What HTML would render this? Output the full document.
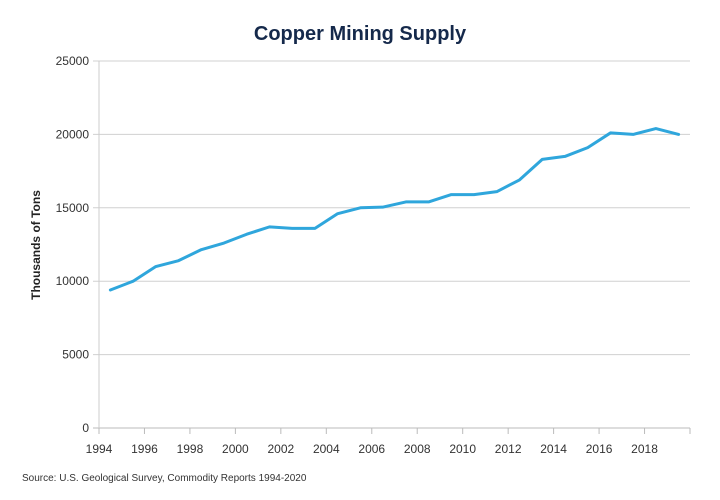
<!DOCTYPE html>
<html><head><meta charset="utf-8"><style>
body{margin:0;background:#fff;font-family:"Liberation Sans",sans-serif}
svg{display:block}
svg text{font-family:"Liberation Sans",sans-serif}
</style></head><body>
<svg id="chart" width="720" height="500" viewBox="0 0 720 500">
<text x="360" y="40" text-anchor="middle" font-size="20" font-weight="bold" fill="#15294b">Copper Mining Supply</text>
<text transform="translate(40,245) rotate(-90)" text-anchor="middle" font-size="12" font-weight="bold" fill="#222">Thousands of Tons</text>
<text x="22" y="481" font-size="10" fill="#333">Source: U.S. Geological Survey, Commodity Reports 1994-2020</text>
<g id="grid"></g><g id="axes"></g><g id="series"></g>
</svg>
<script>
const years=[1994.5,1995.5,1996.5,1997.5,1998.5,1999.5,2000.5,2001.5,2002.5,2003.5,2004.5,2005.5,2006.5,2007.5,2008.5,2009.5,2010.5,2011.5,2012.5,2013.5,2014.5,2015.5,2016.5,2017.5,2018.5,2019.5];
const supply=[9400,10000,11000,11400,12150,12600,13200,13700,13600,13600,14600,15000,15050,15400,15400,15900,15900,16100,16900,18300,18500,19100,20100,20000,20400,20000];
const yTicks=[0,5000,10000,15000,20000,25000];
const xTicks=[1994,1996,1998,2000,2002,2004,2006,2008,2010,2012,2014,2016,2018];
const NS="http://www.w3.org/2000/svg";
const X0=99,X1=690,Y0=428,Y1=61;
const xs=v=>X0+(v-1994)/(2020-1994)*(X1-X0);
const ys=v=>Y0-(v/25000)*(Y0-Y1);
function mk(t,a,p){const e=document.createElementNS(NS,t);for(const k in a)e.setAttribute(k,a[k]);p.appendChild(e);return e;}
const grid=document.getElementById('grid'),axes=document.getElementById('axes'),ser=document.getElementById('series');
yTicks.forEach(v=>{
 const l=mk('line',{x1:X0-6,x2:X1,y1:ys(v),y2:ys(v),stroke:v===0?'#bbb':'#d0d0d0','stroke-width':1},grid);
 
 
 const t=mk('text',{x:X0-10,y:ys(v)+4,'text-anchor':'end','font-size':12,fill:'#333'},axes);
 t.textContent=v;
 
 
});
const ya=mk('line',{x1:X0,x2:X0,y1:Y1,y2:Y0,stroke:'#ccc','stroke-width':1},axes);


xTicks.concat([2020]).forEach(v=>{
 const tk=mk('line',{x1:xs(v),x2:xs(v),y1:Y0,y2:Y0+6,stroke:'#bbb'},axes);
 
 
});
xTicks.forEach(v=>{
 const t=mk('text',{x:xs(v),y:Y0+25,'text-anchor':'middle','font-size':12,fill:'#333'},axes);
 t.textContent=v;
 
 
});
const p=mk('polyline',{points:years.map((y,i)=>xs(y)+','+ys(supply[i])).join(' '),fill:'none',stroke:'#2fa6dc','stroke-width':3,'stroke-linejoin':'round','stroke-linecap':'round'},ser);


</script>
</body></html>
